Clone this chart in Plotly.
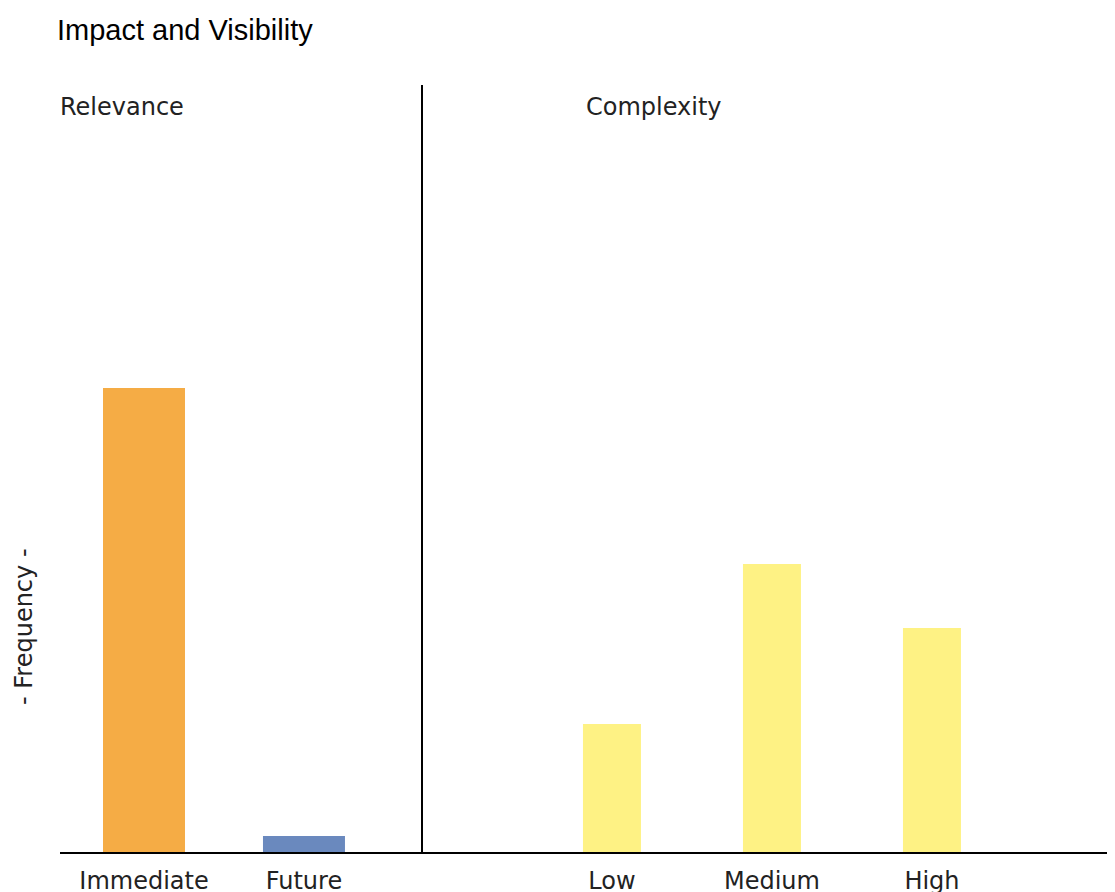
import plotly.graph_objects as go

relevance_labels = ['Immediate', 'Future']
relevance_values = [29, 1]
relevance_colors = ['#F5AC45', '#6A89BE']

complexity_labels = ['Low', 'Medium', 'High']
complexity_values = [8, 18, 14]
complexity_color = '#FEF284'

tick_font = dict(family='DejaVu Sans', size=24, color='#222222')

fig = go.Figure()
fig.add_trace(go.Bar(
    x=relevance_labels, y=relevance_values,
    marker=dict(color=relevance_colors, line=dict(width=0)),
    width=0.5125, xaxis='x', yaxis='y', showlegend=False,
))
fig.add_trace(go.Bar(
    x=complexity_labels, y=complexity_values,
    marker=dict(color=complexity_color, line=dict(width=0)),
    width=0.3625, xaxis='x2', yaxis='y2', showlegend=False,
))

# the page body adds an 8px margin; plot area runs past the right window edge
W, H = 1115, 884
plot_w = W - 52
split = (423 - 60) / plot_w
ymax = 767 / 16

fig.update_layout(
    width=W, height=H,
    margin=dict(l=52, r=0, t=77, b=40),
    paper_bgcolor='white', plot_bgcolor='white',
    title=dict(
        text='Impact and Visibility',
        font=dict(family='Liberation Sans', size=29, color='black'),
        xref='container', yref='container',
        x=(57 - 8) / W, xanchor='left',
        y=1 - (30 - 8) / H, yanchor='middle',
    ),
    xaxis=dict(
        domain=[0, split], type='category', range=[-0.525, 1.744],
        showline=True, linecolor='black', linewidth=2, automargin=False,
        showgrid=False, zeroline=False, ticks='', tickfont=tick_font,
        ticklabelstandoff=6,
    ),
    xaxis2=dict(
        domain=[split, 1], type='category', range=[-1.181, 3.194],
        anchor='y2', automargin=False,
        showline=True, linecolor='black', linewidth=2,
        showgrid=False, zeroline=False, ticks='', tickfont=tick_font,
        ticklabelstandoff=6,
    ),
    yaxis=dict(
        range=[0, ymax], showgrid=False, zeroline=False,
        showticklabels=False, showline=False,
    ),
    yaxis2=dict(
        range=[0, ymax], anchor='x2', showgrid=False, zeroline=False,
        showticklabels=False, showline=True, linecolor='black', linewidth=2,
    ),
    annotations=[
        dict(text='Relevance', xref='paper', yref='paper',
             x=(58 - 60) / plot_w, y=(852 - 107) / 767,
             xanchor='left', yanchor='middle', showarrow=False,
             font=tick_font),
        dict(text='Complexity', xref='paper', yref='paper',
             x=(584 - 60) / plot_w, y=(852 - 107) / 767,
             xanchor='left', yanchor='middle', showarrow=False,
             font=tick_font),
        dict(text='- Frequency -', xref='paper', yref='paper',
             x=(24 - 60) / plot_w, y=(852 - 627) / 767,
             xanchor='center', yanchor='middle', showarrow=False,
             textangle=-90, font=tick_font),
    ],
)

fig.write_html('out.html')
